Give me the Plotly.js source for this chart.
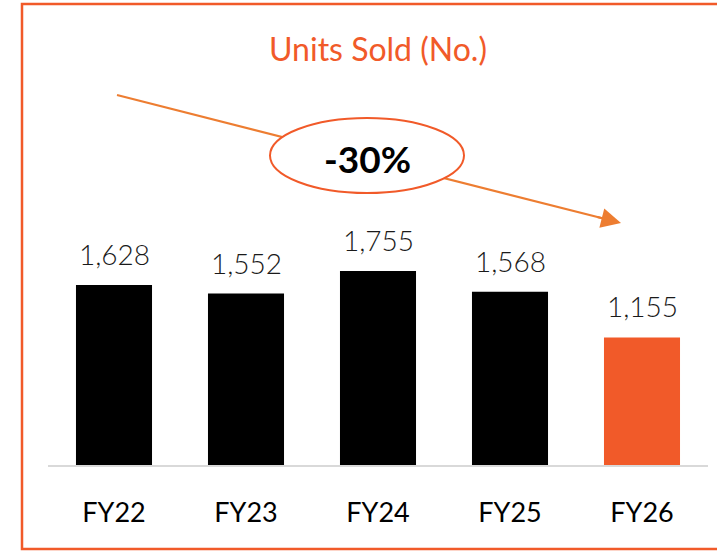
<!DOCTYPE html>
<html>
<head>
<meta charset="utf-8">
<script src="https://cdn.plot.ly/plotly-3.0.1.min.js"></script>
<style>
html,body{margin:0;padding:0;background:#fff;}
#chart{width:717px;height:555px;}
</style>
</head>
<body>
<div id="chart"></div>
<script>
const categories = ["FY22", "FY23", "FY24", "FY25", "FY26"];
const unitsSold = [1628, 1552, 1755, 1568, 1155];
const barColors = ["#000000", "#000000", "#000000", "#000000", "#F15A29"];
const chartTitle = "Units Sold (No.)";
const changeLabel = "-30%";

const W = 717, H = 555;
const M = {l: 48, r: 9, t: 65, b: 90};
const pw = W - M.l - M.r, ph = H - M.t - M.b;
const px = x => (x - M.l) / pw;
const py = y => (H - M.b - y) / ph;

const fmt = v => v.toLocaleString("en-US");

const trace = {
  type: "bar",
  x: categories,
  y: unitsSold,
  marker: {color: barColors, line: {width: 0}},
  hoverinfo: "none"
};

const labelAnnotations = categories.map((c, i) => ({
  x: c, y: unitsSold[i], xref: "x", yref: "y",
  text: fmt(unitsSold[i]), showarrow: false,
  yanchor: "bottom", yshift: 12,
  font: {family: "Lato", size: 28, color: "#1a1a1a", weight: 300}
}));

// arrow geometry (pixel positions from the design)
const a0 = [117, 95], a1 = [621, 223];
const dx = a1[0] - a0[0], dy = a1[1] - a0[1];
const len = Math.hypot(dx, dy);
const ux = dx / len, uy = dy / len;

const layout = {
  width: W, height: H,
  margin: M,
  paper_bgcolor: "#ffffff",
  plot_bgcolor: "#ffffff",
  bargap: 0.424,
  showlegend: false,
  title: {
    text: chartTitle,
    font: {family: "Lato", size: 32, color: "#F15A29"},
    x: px(378), xanchor: "center", xref: "paper",
    y: 1 - 50 / H, yanchor: "middle"
  },
  xaxis: {
    type: "category",
    range: [-0.5, 4.5],
    showgrid: false,
    zeroline: false,
    showline: true,
    linecolor: "#d9d9d9",
    linewidth: 2,
    ticks: "",
    ticklabelstandoff: 23,
    tickfont: {family: "Lato", size: 27, color: "#000000"},
    fixedrange: true
  },
  yaxis: {
    range: [0, 3620],
    visible: false,
    showgrid: false,
    zeroline: false,
    fixedrange: true
  },
  shapes: [
    {type: "rect", xref: "paper", yref: "paper",
     x0: px(22), x1: px(722), y0: py(549), y1: py(4),
     line: {color: "#F15A29", width: 2.5}, fillcolor: "rgba(0,0,0,0)", layer: "above"},
    {type: "line", xref: "paper", yref: "paper",
     x0: px(a0[0]), y0: py(a0[1]), x1: px(a1[0] - ux * 10), y1: py(a1[1] - uy * 10),
     line: {color: "#ED7D31", width: 2.2}, layer: "above"},
    {type: "circle", xref: "paper", yref: "paper",
     x0: px(270), x1: px(464), y0: py(193), y1: py(118),
     line: {color: "#F15A29", width: 2}, fillcolor: "#ffffff", layer: "above"}
  ],
  annotations: labelAnnotations.concat([
    {x: px(a1[0]), y: py(a1[1]), xref: "paper", yref: "paper",
     ax: -ux * 26, ay: -uy * 26, axref: "pixel", ayref: "pixel",
     text: "", showarrow: true, arrowhead: 2, arrowsize: 1.8, arrowwidth: 2.2,
     arrowcolor: "#ED7D31", standoff: 0},
    {x: px(367), y: py(158), xref: "paper", yref: "paper",
     text: "<b>" + changeLabel + "</b>", showarrow: false,
     xanchor: "center", yanchor: "middle",
     font: {family: "Lato", size: 37, color: "#000000"}}
  ])
};

Plotly.newPlot("chart", [trace], layout, {staticPlot: true, displayModeBar: false});
</script>
</body>
</html>
